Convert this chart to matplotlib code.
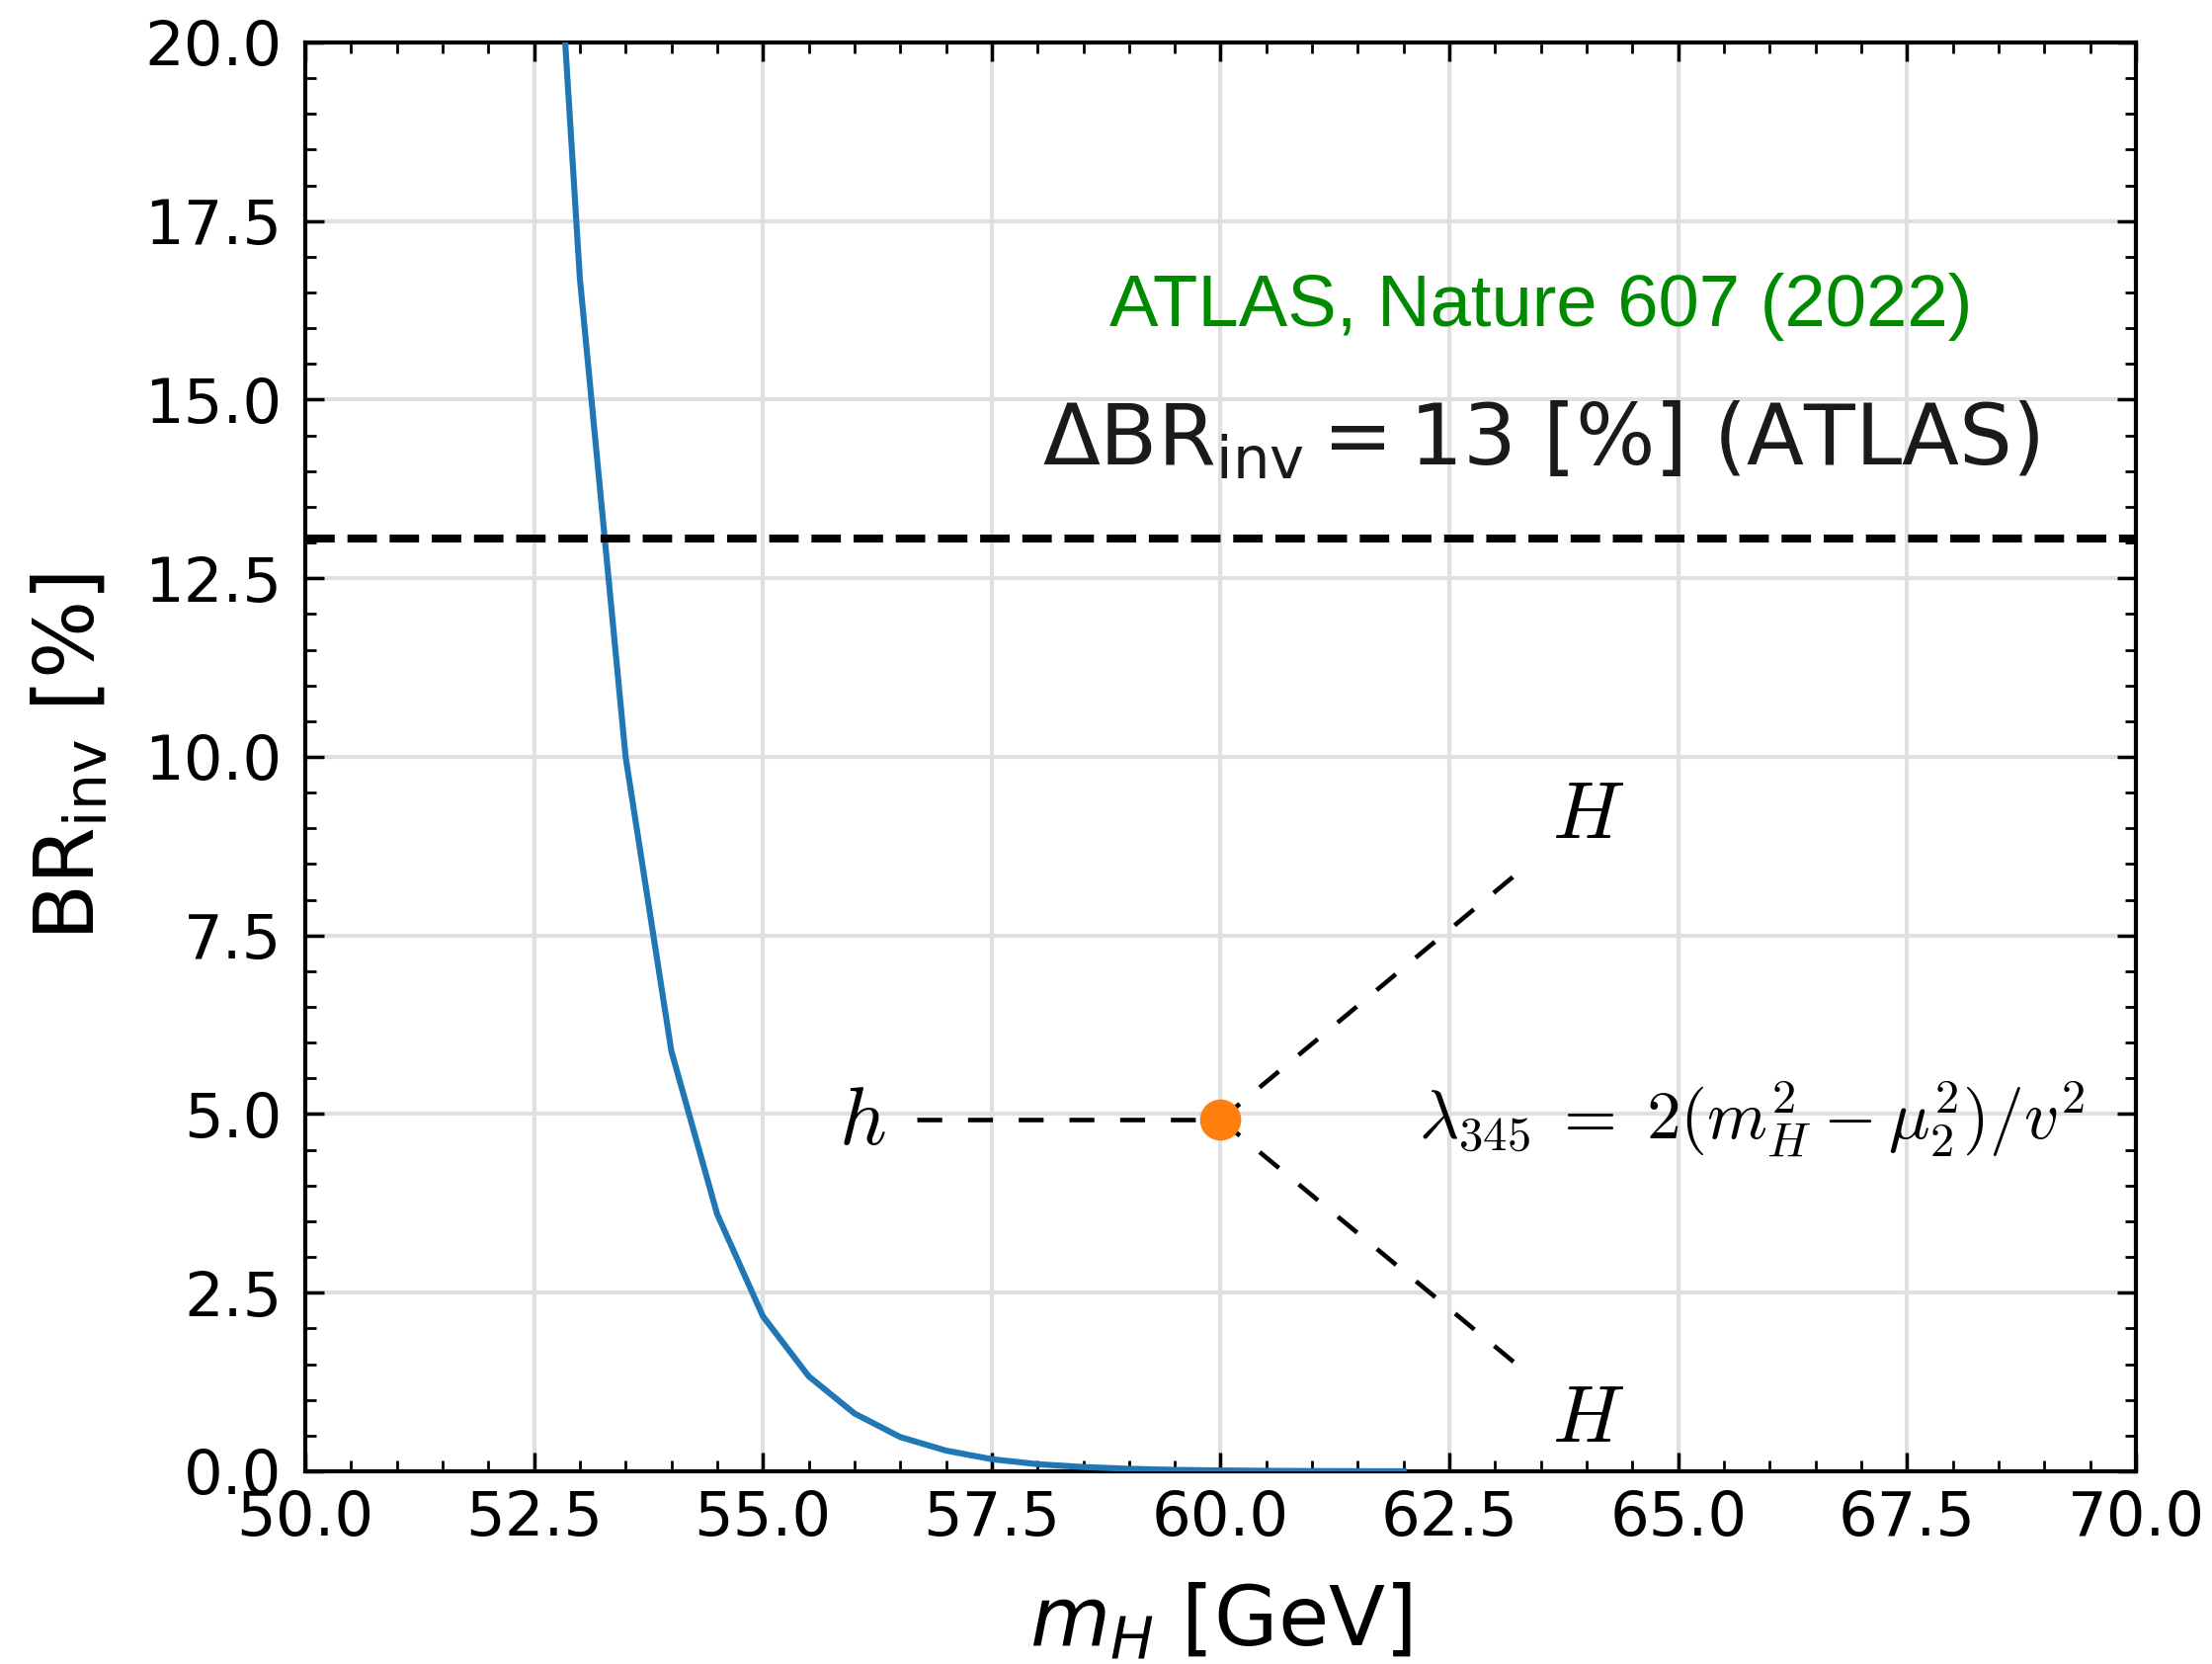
import matplotlib
matplotlib.use("Agg")
import matplotlib.pyplot as plt
from matplotlib.ticker import MultipleLocator
import numpy as np

# ---- data ----
m_H = [52.5, 53.0, 53.5, 54.0, 54.5, 55.0, 55.5, 56.0, 56.5, 57.0, 57.5,
       58.0, 58.5, 59.0, 59.5, 60.0, 60.5, 61.0, 61.5, 62.0]
br_inv = [27.0, 16.7, 10.0, 5.88, 3.6, 2.17, 1.33, 0.81, 0.48, 0.29, 0.17,
          0.10, 0.06, 0.035, 0.02, 0.012, 0.007, 0.004, 0.002, 0.001]
atlas_limit = 13.05

x_ticks = [50.0, 52.5, 55.0, 57.5, 60.0, 62.5, 65.0, 67.5, 70.0]
y_ticks = [0.0, 2.5, 5.0, 7.5, 10.0, 12.5, 15.0, 17.5, 20.0]

# Feynman diagram annotation (data coordinates)
vertex = (60.0, 4.92)
h_start = 56.68
leg_end_x = 63.25
leg_up_y = 8.38
leg_down_y = 1.48

plt.rcParams['mathtext.fontset'] = 'dejavusans'

fig = plt.figure(figsize=(22.39, 16.84), dpi=100)
ax = fig.add_axes([0.138, 0.1158, 0.8276, 0.8587])

ax.set_xlim(50, 70)
ax.set_ylim(0, 20)
ax.set_xticks(x_ticks)
ax.set_yticks(y_ticks)
ax.set_xticklabels([f"{v:.1f}" for v in x_ticks])
ax.set_yticklabels([f"{v:.1f}" for v in y_ticks])
ax.xaxis.set_minor_locator(MultipleLocator(0.5))
ax.yaxis.set_minor_locator(MultipleLocator(0.5))
ax.tick_params(which='both', direction='in', top=True, right=True)
ax.tick_params(which='major', length=14, width=2.5, labelsize=45)
ax.tick_params(which='minor', length=8, width=2.0)
ax.tick_params(axis='x', which='major', pad=13)
ax.tick_params(axis='y', which='major', pad=17)
for s in ax.spines.values():
    s.set_linewidth(3.0)

ax.grid(True, which='major', color='#e0e0e0', lw=3.0)
ax.set_axisbelow(True)

ax.plot(m_H, br_inv, color='#1f77b4', lw=4.4, zorder=3)
ax.axhline(atlas_limit, color='black', ls='--', lw=5.8, zorder=3)

ax.set_xlabel(r"$m_H$ [GeV]", fontsize=60)
ax.set_ylabel(r"$\mathrm{BR}_{\mathrm{inv}}$ [%]", fontsize=60)
ax.xaxis.set_label_coords(0.5, -0.077)
ax.yaxis.set_label_coords(-0.106, 0.5)

ax.text(63.5, 16.3, "ATLAS, Nature 607 (2022)", color='#008a00', fontsize=53.5,
        ha='center', va='center', family='Liberation Sans')
ax.text(63.5, 14.4, r"$\Delta\mathrm{BR}_{\mathrm{inv}} = 13$ [%] (ATLAS)",
        color='#1a1a1a', fontsize=61, ha='center', va='center')

dash = (0, (5.5, 5.7))
ax.plot([h_start, vertex[0]], [vertex[1], vertex[1]], color='black', lw=3.3, ls=dash, zorder=4)
ax.plot([vertex[0], leg_end_x], [vertex[1], leg_up_y], color='black', lw=3.3, ls=dash, zorder=4)
ax.plot([vertex[0], leg_end_x], [vertex[1], leg_down_y], color='black', lw=3.3, ls=dash, zorder=4)
ax.plot([vertex[0]], [vertex[1]], 'o', color='#ff7f0e', ms=29, zorder=5)

cm = {'math_fontfamily': 'cm'}
ax.text(56.09, 4.9, r"$h$", fontsize=60, ha='center', va='center', **cm)
ax.text(64.02, 9.17, r"$H$", fontsize=58, ha='center', va='center', **cm)
ax.text(64.02, 0.72, r"$H$", fontsize=58, ha='center', va='center', **cm)
ax.text(62.16, 4.93, r"$\lambda_{345} \;=\; 2(m_H^2 - \mu_2^2)/v^2$", fontsize=50,
        ha='left', va='center', **cm)

fig.savefig("out.png", dpi=100)
